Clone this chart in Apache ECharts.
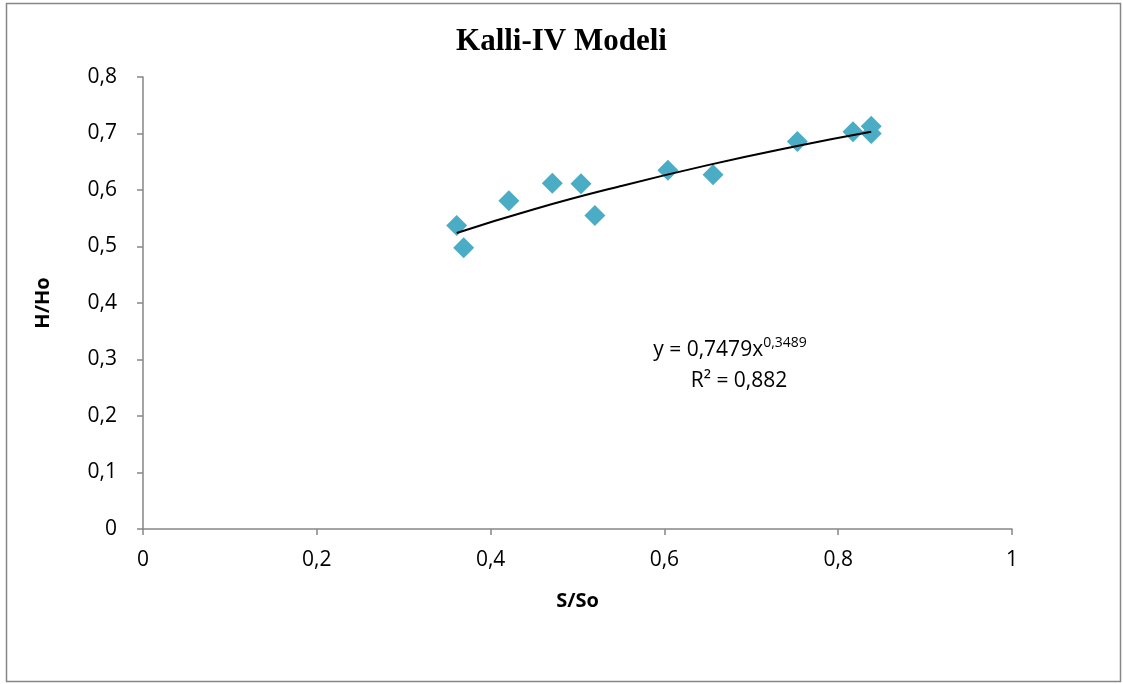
<!DOCTYPE html>
<html>
<head>
<meta charset="utf-8">
<script src="https://cdn.jsdelivr.net/npm/echarts@6/dist/echarts.min.js"></script>
<style>
html,body{margin:0;padding:0;background:#fff;}
#c{width:1123px;height:684px;}
</style>
</head>
<body>
<div id="c"></div>
<script>
// Observed points (S/So, H/Ho)
var xValues = [0.361, 0.369, 0.421, 0.471, 0.504, 0.520, 0.604, 0.656, 0.753, 0.817, 0.838, 0.838];
var yValues = [0.537, 0.498, 0.581, 0.612, 0.611, 0.555, 0.635, 0.627, 0.686, 0.703, 0.713, 0.700];
// Power trendline
var trendX = [0.361, 0.45, 0.55, 0.65, 0.75, 0.838];
var trendY = [0.524, 0.566, 0.607, 0.644, 0.677, 0.703];
var xTicks = [0, 0.2, 0.4, 0.6, 0.8, 1];
var yTicks = [0, 0.1, 0.2, 0.3, 0.4, 0.5, 0.6, 0.7, 0.8];
var titleText = 'Kalli-IV Modeli';
var xName = 'S/So';
var yName = 'H/Ho';

var pts = xValues.map(function (x, i) { return [x, yValues[i]]; });
var trend = trendX.map(function (x, i) { return [x, trendY[i]]; });
function fmt(v) { return String(v).replace('.', ','); }

var chart = echarts.init(document.getElementById('c'), null, {renderer: 'canvas'});
var labelFont = '"Open Sans", "Noto Sans", sans-serif';
chart.setOption({
  animation: false,
  backgroundColor: '#fff',
  title: {
    text: titleText,
    left: 'center',
    top: 21,
    textStyle: {fontFamily: '"Liberation Serif", serif', fontWeight: 'bold', fontSize: 31, color: '#000'}
  },
  grid: {left: 143, right: 111, top: 77, bottom: 155},
  xAxis: {
    type: 'value', min: 0, max: 1, interval: 0.2,
    name: xName, nameLocation: 'middle', nameGap: 62,
    nameTextStyle: {fontFamily: labelFont, fontWeight: 'bold', fontSize: 20, color: '#000'},
    axisLine: {show: true, lineStyle: {color: '#868686', width: 1.5}},
    axisTick: {show: true, length: 6, lineStyle: {color: '#868686', width: 1.5}},
    splitLine: {show: false},
    axisLabel: {fontFamily: labelFont, fontSize: 21, color: '#000', margin: 21,
      formatter: function (v) { return fmt(v); }}
  },
  yAxis: {
    type: 'value', min: 0, max: 0.8, interval: 0.1,
    name: yName, nameLocation: 'middle', nameGap: 90, nameRotate: 90,
    nameTextStyle: {fontFamily: labelFont, fontWeight: 'bold', fontSize: 20, color: '#000'},
    axisLine: {show: true, lineStyle: {color: '#868686', width: 1.5}},
    axisTick: {show: true, length: 6, lineStyle: {color: '#868686', width: 1.5}},
    splitLine: {show: false},
    axisLabel: {fontFamily: labelFont, fontSize: 21, color: '#000', margin: 26,
      formatter: function (v) { return fmt(Math.round(v * 10) / 10); }}
  },
  series: [
    {
      type: 'line', data: trend, smooth: true, symbol: 'none', z: 3,
      lineStyle: {color: '#000', width: 2}
    },
    {
      type: 'scatter', data: pts, symbol: 'diamond', symbolSize: 21, z: 2,
      itemStyle: {color: '#4BACC6', opacity: 1}
    }
  ],
  graphic: [
    {
      type: 'rect', shape: {x: 6.5, y: 3.5, width: 1114, height: 678},
      style: {fill: 'none', stroke: '#868686', lineWidth: 1.5}, silent: true, z: -1
    },
    {
      type: 'text', x: 730, y: 350,
      style: {
        text: '{a|y = 0,7479x}{s|0,3489}',
        align: 'center', verticalAlign: 'middle',
        rich: {
          a: {fontFamily: labelFont, fontSize: 21, color: '#000'},
          s: {fontFamily: labelFont, fontSize: 14, color: '#000', verticalAlign: 'top', padding: [0, 0, 14, 0]}
        }
      }
    },
    {
      type: 'text', x: 739, y: 381,
      style: {text: 'R² = 0,882', align: 'center', verticalAlign: 'middle',
        font: '21px "Open Sans", "Noto Sans", sans-serif', fill: '#000'}
    }
  ]
});
</script>
</body>
</html>
